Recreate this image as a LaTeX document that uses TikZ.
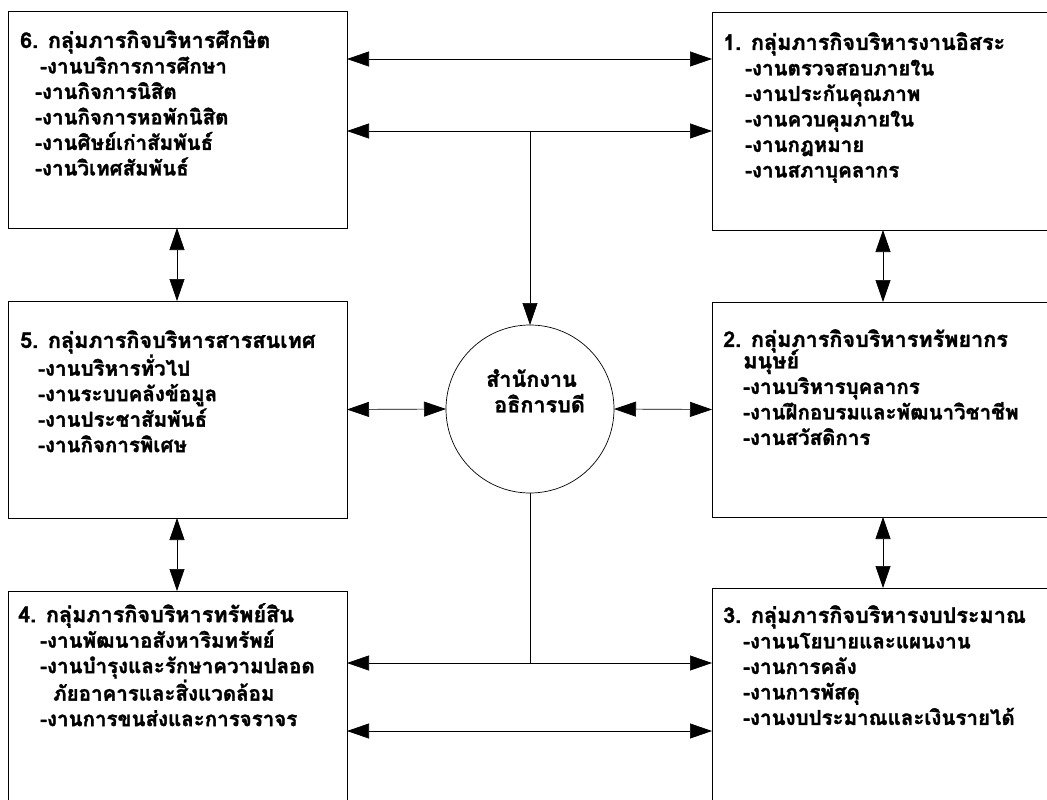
\documentclass[tikz,border=0pt]{standalone}
\usepackage{fontspec}
\newfontfamily\thai[Script=Thai, BoldFeatures={FakeBold=1.5}]{Loma}
\usetikzlibrary{arrows.meta,calc}
\newcommand{\ttl}[1]{{\fontsize{21.6}{25.5}\selectfont #1}}
\begin{document}
\begin{tikzpicture}[x=1pt,y=-1pt,
  box/.style={draw, line width=0.7pt, inner sep=0pt, outer sep=0pt, anchor=north west},
  txt/.style={anchor=north west, inner sep=0pt, align=left, font=\thai\bfseries\fontsize{20.5}{25.5}\selectfont},
  bi/.style={line width=0.7pt, {Triangle[length=22pt,width=15pt]}-{Triangle[length=22pt,width=15pt]}},
  uni/.style={line width=0.7pt, -{Triangle[length=22pt,width=15pt]}},
  plain/.style={line width=0.7pt}]
\useasboundingbox (0,0) rectangle (1047,800);
\clip (0,0) rectangle (1047,800);
\fill[white] (0,0) rectangle (1047,800);
% boxes
\node[box, minimum width=339pt, minimum height=217pt] (b6) at (8,11) {};
\node[box, minimum width=358pt, minimum height=218pt] (b1) at (712,12) {};
\node[box, minimum width=339pt, minimum height=217pt] (b5) at (8,301) {};
\node[box, minimum width=358pt, minimum height=215pt] (b2) at (712,302) {};
\node[box, minimum width=339pt, minimum height=239pt] (b4) at (8,591) {};
\node[box, minimum width=358pt, minimum height=242pt] (b3) at (712,588) {};
% centre
\node[circle, draw, line width=0.7pt, minimum size=168pt, inner sep=0pt, outer sep=0pt] (c) at (530,409) {};
\node[txt] (ct) at (486,369) {\ttl{สำนักงาน}\\\hspace*{8pt}\ttl{อธิการบดี}};
% texts
\node[txt] (t6) at (20,30) {\ttl{6. กลุ่มภารกิจบริหารศึกษิต}\\\hspace*{20pt}-งานบริการการศึกษา\\\hspace*{15pt}-งานกิจการนิสิต\\\hspace*{15pt}-งานกิจการหอพักนิสิต\\\hspace*{15pt}-งานศิษย์เก่าสัมพันธ์\\\hspace*{15pt}-งานวิเทศสัมพันธ์};
\node[txt] (t1) at (723,32) {\ttl{1. กลุ่มภารกิจบริหารงานอิสระ}\\\hspace*{22pt}-งานตรวจสอบภายใน\\\hspace*{22pt}-งานประกันคุณภาพ\\\hspace*{22pt}-งานควบคุมภายใน\\\hspace*{22pt}-งานกฎหมาย\\\hspace*{22pt}-งานสภาบุคลากร};
\node[txt] (t5) at (20,330) {\ttl{5. กลุ่มภารกิจบริหารสารสนเทศ}\\\hspace*{18pt}-งานบริหารทั่วไป\\\hspace*{18pt}-งานระบบคลังข้อมูล\\\hspace*{18pt}-งานประชาสัมพันธ์\\\hspace*{18pt}-งานกิจการพิเศษ};
\node[txt] (t2) at (723,329) {\ttl{2. กลุ่มภารกิจบริหารทรัพยากร}\\[-4pt]\hspace*{20pt}\ttl{มนุษย์}\\\hspace*{20pt}-งานบริหารบุคลากร\\\hspace*{20pt}-งานฝึกอบรมและพัฒนาวิชาชีพ\\\hspace*{20pt}-งานสวัสดิการ};
\node[txt] (t4) at (18,603) {\ttl{4. กลุ่มภารกิจบริหารทรัพย์สิน}\\\hspace*{22pt}-งานพัฒนาอสังหาริมทรัพย์\\\hspace*{22pt}-งานบำรุงและรักษาความปลอด\\\hspace*{35pt}ภัยอาคารและสิ่งแวดล้อม\\\hspace*{22pt}-งานการขนส่งและการจราจร};
\node[txt] (t3) at (723,605) {\ttl{3. กลุ่มภารกิจบริหารงบประมาณ}\\\hspace*{20pt}-งานนโยบายและแผนงาน\\\hspace*{20pt}-งานการคลัง\\\hspace*{20pt}-งานการพัสดุ\\\hspace*{20pt}-งานงบประมาณและเงินรายได้};
% top connectors
\coordinate (a1) at ([yshift=-48pt]b6.north east);
\coordinate (a2) at ([yshift=-120pt]b6.north east);
\draw[bi] (a1) -- (a1 -| b1.west);
\draw[bi] (a2) -- (a2 -| b1.west);
\draw[uni] (a2 -| c.north) -- (c.north);
% middle connectors
\draw[bi] (b5.east) -- (c.west);
\draw[bi] (c.east) -- (b2.west);
% bottom connectors
\coordinate (a3) at ([yshift=-72pt]b4.north east);
\coordinate (a4) at ([yshift=-140pt]b4.north east);
\draw[bi] (a3) -- (a3 -| b3.west);
\draw[bi] (a4) -- (a4 -| b3.west);
\draw[plain] (c.south) -- (c.south |- a3);
% vertical connectors
\coordinate (v6) at ([xshift=169pt]b6.south west);
\coordinate (v1) at ([xshift=171pt]b1.south west);
\coordinate (v5) at ([xshift=169pt]b5.south west);
\coordinate (v2) at ([xshift=171pt]b2.south west);
\draw[bi] (v6) -- (v6 |- b5.north);
\draw[bi] (v1) -- (v1 |- b2.north);
\draw[bi] (v5) -- (v5 |- b4.north);
\draw[bi] (v2) -- (v2 |- b3.north);
\end{tikzpicture}
\end{document}
